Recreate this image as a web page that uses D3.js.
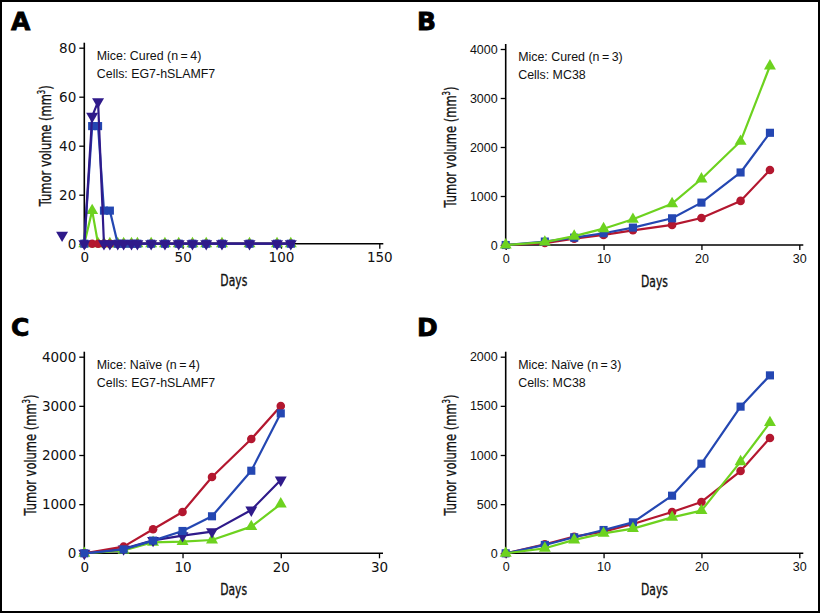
<!DOCTYPE html>
<html>
<head>
<meta charset="utf-8">
<script src="https://cdn.jsdelivr.net/npm/d3@7"></script>
<style>
  html, body { margin: 0; padding: 0; background: #fff; }
  svg { display: block; }
</style>
</head>
<body>
<svg id="chart" width="820" height="613"></svg>
<script>
// ---------------- DATA ----------------
// Panel A: Cured mice (n = 4), EG7-hSLAMF7
const daysA  = [0, 4, 7, 10, 13, 17, 20, 24, 27, 34, 41, 48, 55, 62, 70, 84, 98, 105];
const redA   = [0, 0, 0, 0, 0, 0, 0, 0, 0, 0, 0, 0, 0, 0, 0, 0, 0, 0];
const blueA  = [0, 48, 48, 13.5, 13.5, 0, 0, 0, 0, 0, 0, 0, 0, 0, 0, 0, 0, 0];
const greenA = [0, 13.5, 0, 0, 0, 0, 0, 0, 0, 0, 0, 0, 0, 0, 0, 0, 0, 0];
const navyA  = [0, 52, 58, 0, 0, 0, 0, 0, 0, 0, 0, 0, 0, 0, 0, 0, 0, 0];
const strayNavyA = [{ day: -11.3, v: 3.5 }];

// Panel B: Cured mice (n = 3), MC38
const daysB  = [0, 4, 7, 10, 13, 17, 20, 24, 27];
const redB   = [0, 40, 130, 205, 300, 410, 550, 900, 1530];
const blueB  = [0, 70, 150, 240, 355, 545, 865, 1480, 2290];
const greenB = [0, 60, 180, 333, 524, 843, 1347, 2116, 3653];

// Panel C: Naive mice (n = 4), EG7-hSLAMF7
const daysC  = [0, 4, 7, 10, 13, 17, 20];
const redC   = [0, 135, 488, 841, 1553, 2325, 2997];
const blueC  = [0, 80, 258, 454, 753, 1680, 2847];
const navyC  = [0, 90, 262, 359, 441, 881, 1492];
const greenC = [0, 60, 224, 237, 271, 542, 1003];

// Panel D: Naive mice (n = 3), MC38
const daysD  = [0, 4, 7, 10, 13, 17, 20, 24, 27];
const redD   = [0, 92, 169, 220, 298, 420, 522, 837, 1173];
const blueD  = [0, 85, 163, 237, 315, 586, 912, 1492, 1810];
const greenD = [0, 51, 136, 203, 251, 366, 434, 932, 1329];

// Tick values
const xTicksA = [0, 50, 100, 150];
const yTicksA = [0, 20, 40, 60, 80];
const xTicks30 = [0, 10, 20, 30];
const yTicks4000 = [0, 1000, 2000, 3000, 4000];
const yTicks2000 = [0, 500, 1000, 1500, 2000];

// Labels
const panelLetters = ["A", "B", "C", "D"];
const annotations = [
  ["Mice: Cured (n\u2009=\u20094)", "Cells: EG7-hSLAMF7"],
  ["Mice: Cured (n\u2009=\u20093)", "Cells: MC38"],
  ["Mice: Na\u00efve (n\u2009=\u20094)", "Cells: EG7-hSLAMF7"],
  ["Mice: Na\u00efve (n\u2009=\u20093)", "Cells: MC38"]
];
const xTitle = "Days";
const yTitle = "Tumor volume (mm";

// ---------------- STYLE ----------------
const COL = { red: "#b3172f", blue: "#2447b2", green: "#6dd21f", navy: "#2f1a8a" };
const SHAPE = { red: "circle", blue: "square", green: "up", navy: "down" };

const svg = d3.select("#chart");

// outer border
svg.append("rect").attr("x", 1).attr("y", 1).attr("width", 818).attr("height", 611)
  .attr("fill", "none").attr("stroke", "#000").attr("stroke-width", 2);

function markerPath(shape) {
  if (shape === "circle") return d3.symbol(d3.symbolCircle, 58)();
  if (shape === "square") return d3.symbol(d3.symbolSquare, 66)();
  return d3.symbol(d3.symbolTriangle, 62)();
}

const titleFont = "'DejaVu Sans', 'Liberation Sans', sans-serif";

function panel(cfg) {
  const g = svg.append("g");
  const x = d3.scaleLinear().domain(cfg.xDomain).range(cfg.xRange);
  const y = d3.scaleLinear().domain(cfg.yDomain).range(cfg.yRange);

  // axes
  const fmt = d3.format("d");
  const xAxis = d3.axisBottom(x).tickValues(cfg.xTicks).tickFormat(fmt).tickSize(5).tickPadding(4).tickSizeOuter(0);
  const yAxis = d3.axisLeft(y).tickValues(cfg.yTicks).tickFormat(fmt).tickSize(5).tickPadding(3).tickSizeOuter(0);

  const gx = g.append("g").attr("transform", `translate(0,${cfg.yRange[0]})`).call(xAxis);
  const gy = g.append("g").attr("transform", `translate(${cfg.xRange[0]},0)`).call(yAxis);
  [gx, gy].forEach(a => {
    a.select(".domain").remove();
    a.selectAll("line").attr("stroke", "#000").attr("stroke-width", 1.3);
    a.selectAll("text").attr("fill", "#111")
      .style("font-family", cfg.tickFont).style("font-size", cfg.tickSize + "px");
  });
  // axis lines (slightly extended beyond last tick)
  g.append("line").attr("x1", cfg.xRange[0]).attr("x2", cfg.xRange[1] + 4)
    .attr("y1", cfg.yRange[0]).attr("y2", cfg.yRange[0])
    .attr("stroke", "#000").attr("stroke-width", 1.6);
  g.append("line").attr("x1", cfg.xRange[0]).attr("x2", cfg.xRange[0])
    .attr("y1", cfg.yRange[0]).attr("y2", cfg.yRange[1] - 5)
    .attr("stroke", "#000").attr("stroke-width", 1.6);

  // panel letter
  g.append("text").attr("x", cfg.letterPos[0]).attr("y", cfg.letterPos[1])
    .text(cfg.letter)
    .style("font-family", "'DejaVu Sans', 'Liberation Sans', sans-serif")
    .style("font-weight", "900").style("font-size", "25px")
    .attr("stroke", "#000").attr("stroke-width", 0.8).attr("fill", "#000");

  // annotation
  cfg.note.forEach((t, i) => {
    g.append("text").attr("x", cfg.xRange[0] + 12.5).attr("y", cfg.yRange[1] + 12 + i * 18)
      .text(t)
      .style("font-family", "'Liberation Sans', Arial, sans-serif")
      .style("font-size", "12.4px").attr("fill", "#111");
  });

  // axis titles (condensed by horizontal scaling to the measured length)
  const xt = g.append("text")
    .attr("text-anchor", "middle")
    .text(xTitle)
    .style("font-family", titleFont).style("font-size", "16.5px")
    .attr("fill", "#111").attr("stroke", "#111").attr("stroke-width", 0.35);
  const xLen = xt.node().getComputedTextLength();
  xt.attr("transform", `translate(${(cfg.xRange[0] + cfg.xRange[1] + 4) / 2},${cfg.yRange[0] + 42}) scale(${27 / xLen},1)`);

  const yt = g.append("text")
    .attr("text-anchor", "middle")
    .style("font-family", titleFont).style("font-size", "16.5px")
    .attr("fill", "#111").attr("stroke", "#111").attr("stroke-width", 0.35);
  yt.append("tspan").text(yTitle);
  yt.append("tspan").text("3").attr("dy", -6.5).style("font-size", "10px");
  yt.append("tspan").text(")").attr("dy", 6.5);
  const yLen = yt.node().getComputedTextLength();
  yt.attr("transform", `translate(${cfg.yTitleX},${(cfg.yRange[0] + cfg.yRange[1]) / 2}) rotate(-90) scale(${121 / yLen},1)`);

  // series
  const line = d3.line().x(d => x(d.day)).y(d => y(d.v));
  cfg.series.forEach(s => {
    const pts = cfg.days.map((d, i) => ({ day: d, v: s.values[i] }));
    g.append("path").datum(pts).attr("d", line)
      .attr("fill", "none").attr("stroke", COL[s.key]).attr("stroke-width", 2.2)
      .attr("stroke-linejoin", "round");
    const all = pts.concat(s.extra || []);
    g.selectAll(null).data(all).enter().append("path")
      .attr("d", markerPath(SHAPE[s.key]))
      .attr("transform", d => `translate(${x(d.day)},${y(d.v)})` + (SHAPE[s.key] === "down" ? " rotate(180)" : ""))
      .attr("fill", COL[s.key]);
  });
}

panel({
  letter: panelLetters[0], letterPos: [11, 30], note: annotations[0],
  xDomain: [0, 150], xRange: [84.3, 379.3], yDomain: [0, 80], yRange: [243.7, 47.7],
  xTicks: xTicksA, yTicks: yTicksA, yTitleX: 51,
  tickFont: "'DejaVu Sans', sans-serif", tickSize: 13.5,
  days: daysA,
  series: [
    { key: "green", values: greenA },
    { key: "red", values: redA },
    { key: "blue", values: blueA },
    { key: "navy", values: navyA, extra: strayNavyA }
  ]
});

panel({
  letter: panelLetters[1], letterPos: [417, 30], note: annotations[1],
  xDomain: [0, 30], xRange: [505.7, 799.3], yDomain: [0, 4000], yRange: [245, 49],
  xTicks: xTicks30, yTicks: yTicks4000, yTitleX: 456,
  tickFont: "'Liberation Sans', Arial, sans-serif", tickSize: 12.5,
  days: daysB,
  series: [
    { key: "red", values: redB },
    { key: "blue", values: blueB },
    { key: "green", values: greenB }
  ]
});

panel({
  letter: panelLetters[2], letterPos: [11, 336], note: annotations[2],
  xDomain: [0, 30], xRange: [84.3, 379], yDomain: [0, 4000], yRange: [553.3, 356.7],
  xTicks: xTicks30, yTicks: yTicks4000, yTitleX: 36,
  tickFont: "'DejaVu Sans', sans-serif", tickSize: 13.5,
  days: daysC,
  series: [
    { key: "green", values: greenC },
    { key: "navy", values: navyC },
    { key: "red", values: redC },
    { key: "blue", values: blueC }
  ]
});

panel({
  letter: panelLetters[3], letterPos: [417, 336], note: annotations[3],
  xDomain: [0, 30], xRange: [505.7, 799.3], yDomain: [0, 2000], yRange: [553.3, 356.7],
  xTicks: xTicks30, yTicks: yTicks2000, yTitleX: 456,
  tickFont: "'Liberation Sans', Arial, sans-serif", tickSize: 12.5,
  days: daysD,
  series: [
    { key: "red", values: redD },
    { key: "blue", values: blueD },
    { key: "green", values: greenD }
  ]
});
</script>
</body>
</html>
